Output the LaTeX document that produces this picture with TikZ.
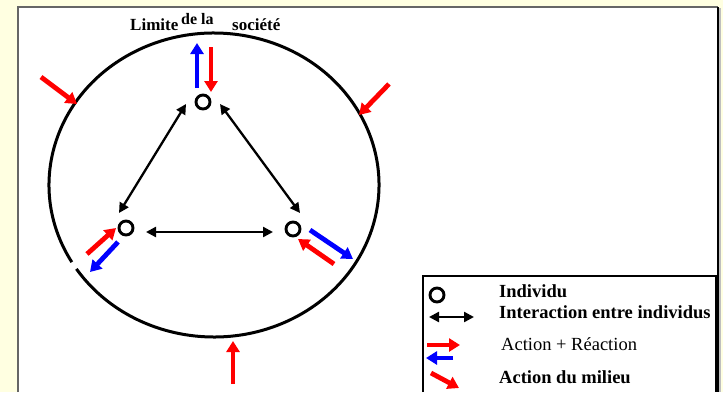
\documentclass[tikz,border=0pt]{standalone}
\usepackage{fontspec}
\setmainfont{Liberation Serif}
\usetikzlibrary{arrows.meta}
\definecolor{fond}{RGB}{255,255,225}
\definecolor{rouge}{RGB}{255,0,0}
\definecolor{bleu}{RGB}{0,0,255}

\begin{document}
\begin{tikzpicture}[x=1pt,y=-1pt,
  indiv/.style={circle,draw,line width=2.9pt,minimum size=14pt,inner sep=0pt},
  inter/.style={{Triangle[length=10pt,width=10pt]}-{Triangle[length=10pt,width=10pt]},line width=2.3pt},
  act/.style={-{Triangle[length=11pt,width=13pt]},line width=4.8pt},
  lab/.style={anchor=base west,inner sep=0pt,font=\fontsize{18.5}{20}\selectfont\bfseries},
  titre/.style={anchor=base west,inner sep=0pt,font=\fontsize{17}{19}\selectfont\bfseries}]
  \useasboundingbox (0,0) rectangle (723,392);
  \fill[fond] (0,0) rectangle (723,392);
  \fill[white] (18,7) rectangle (718,392);
  \draw[gray!80!black,line width=1.5pt] (18,392)--(18,7)--(718,7);
  \draw[black!25,line width=2pt] (720,8)--(720,392);
  \draw[line width=1.5pt] (718,7)--(718,392);
  % limite de la societe
  \draw[line width=3pt] (214,185) ++(149.5:165 and 152)
    arc[start angle=149.5,end angle=506.5,x radius=165,y radius=152];
  \node[titre] (lim) at (130,30) {Limite};
  \node[titre,font=\fontsize{16}{18}\selectfont\bfseries] (dela) at (181,24) {de la};
  \node[titre] (soc) at (232,30) {société};
  % individus
  \node[indiv] (haut) at (203,102) {};
  \node[indiv] (gauche) at (126,228) {};
  \node[indiv] (droite) at (293,229) {};
  \coordinate (h1) at (186,104);
  \coordinate (h2) at (220,104);
  \coordinate (g1) at (119,213);
  \coordinate (g2) at (146,232);
  \coordinate (d1) at (300,213);
  \coordinate (d2) at (273,232);
  \draw[inter] (h1)--(g1);
  \draw[inter] (h2)--(d1);
  \draw[inter] (g2)--(d2);
  % action + reaction
  \draw[act,bleu] (197,88)--(197,43);
  \draw[act,rouge] (211,47)--(211,92);
  \draw[act,rouge] (87,254)--(116,228);
  \draw[act,bleu] (118,242)--(90,272);
  \draw[act,bleu] (310,230)--(353,259);
  \draw[act,rouge] (334,264)--(298,239);
  % action du milieu
  \draw[act,rouge] (41,77)--(77,104);
  \draw[act,rouge] (389,84)--(359,115);
  \draw[act,rouge] (233,384)--(233,341);
  % legende
  \draw[line width=1.5pt] (423,392)--(423,276)--(716,276)--(716,392);
  \node[indiv] (leg) at (437,295) {};
  \draw[inter] (429,317)--(474,317);
  \draw[act,rouge] (427,345)--(460,345);
  \draw[act,bleu] (453,358)--(426,358);
  \draw[act,rouge] (431,373)--(459,388);
  \node[lab] (t1) at (499,297) {Individu};
  \node[lab] (t2) at (499,318) {Interaction entre individus};
  \node[lab,font=\fontsize{18.5}{20}\selectfont] (t3) at (501,350) {Action + Réaction};
  \node[lab] (t4) at (499,383) {Action du milieu};
\end{tikzpicture}
\end{document}
